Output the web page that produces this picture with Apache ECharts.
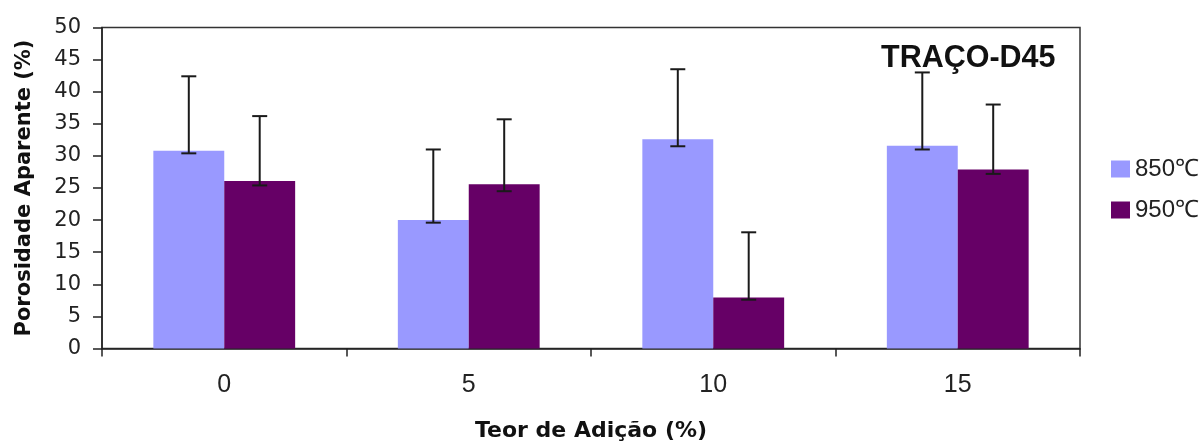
<!DOCTYPE html>
<html>
<head>
<meta charset="utf-8">
<script src="https://cdn.jsdelivr.net/npm/echarts@6/dist/echarts.min.js"></script>
<style>
html,body{margin:0;padding:0;background:#fff;}
#c{width:1203px;height:443px;}
</style>
</head>
<body>
<div id="c"></div>
<script>
const categories = ['0', '5', '10', '15'];
const seriesNames = ['850\u2103', '950\u2103'];
const values850 = [30.8, 20.0, 32.6, 31.6];
const values950 = [26.1, 25.6, 7.95, 27.9];
const errLow850 = [30.4, 19.6, 31.5, 31.0];
const errHigh850 = [42.4, 31.0, 43.5, 43.0];
const errLow950 = [25.4, 24.5, 7.6, 27.2];
const errHigh950 = [36.2, 35.7, 18.1, 38.0];
const yTicks = { min: 0, max: 50, interval: 5 };
const chartTitle = 'TRA\u00c7O-D45';
const xTitle = 'Teor de Adi\u00e7\u00e3o (%)';
const yTitle = 'Porosidade Aparente (%)';

const colors = ['#9999ff', '#660066'];
const gapFrac = 0.42;
const axisColor = '#222';

function errData(lo, hi) {
  return categories.map((c, i) => [i, lo[i], hi[i]]);
}
function errRender(sign) {
  return function (params, api) {
    const idx = api.value(0);
    const base = api.coord([idx, 0]);
    const catW = api.size([1, 0])[0];
    const cx = base[0] + sign * catW * (1 - gapFrac) / 4;
    const lo = api.coord([idx, api.value(1)])[1];
    const hi = api.coord([idx, api.value(2)])[1];
    const hw = 7.5;
    const st = { stroke: '#1a1a1a', lineWidth: 2 };
    return {
      type: 'group',
      children: [
        { type: 'line', shape: { x1: cx, y1: lo, x2: cx, y2: hi }, style: st },
        { type: 'line', shape: { x1: cx - hw, y1: lo, x2: cx + hw, y2: lo }, style: st },
        { type: 'line', shape: { x1: cx - hw, y1: hi, x2: cx + hw, y2: hi }, style: st }
      ]
    };
  };
}

const chart = echarts.init(document.getElementById('c'), null, { renderer: 'canvas' });
chart.setOption({
  animation: false,
  backgroundColor: '#fff',
  title: {
    text: chartTitle,
    left: 881, top: 43, padding: 0,
    textStyle: { fontFamily: 'Liberation Sans', fontWeight: 'bold', fontSize: 30.5, color: '#111' }
  },
  legend: {
    orient: 'vertical', left: 1111, top: 157, padding: 0,
    itemWidth: 19, itemHeight: 17, itemGap: 17,
    icon: 'rect',
    textStyle: { fontFamily: 'Liberation Sans', fontSize: 24, lineHeight: 24, color: '#222' },
    data: seriesNames
  },
  grid: {
    left: 102, right: 123, top: 27.5, bottom: 94.5,
    outerBoundsMode: 'none', containLabel: false,
    show: true, borderColor: '#333', borderWidth: 1.5, backgroundColor: 'transparent'
  },
  xAxis: {
    type: 'category', data: categories,
    name: xTitle, nameLocation: 'middle', nameGap: 72,
    nameTextStyle: { fontFamily: 'DejaVu Sans', fontWeight: 'bold', fontSize: 22, color: '#111' },
    axisLine: { lineStyle: { color: axisColor, width: 1.5 } },
    axisTick: { show: true, length: 8, lineStyle: { color: axisColor, width: 1.5 } },
    axisLabel: { fontFamily: 'Liberation Sans', fontSize: 25, color: '#222', margin: 24 },
    splitLine: { show: false }
  },
  yAxis: {
    type: 'value', min: yTicks.min, max: yTicks.max, interval: yTicks.interval,
    name: yTitle, nameLocation: 'middle', nameGap: 67, nameRotate: 90,
    nameTextStyle: { fontFamily: 'DejaVu Sans', fontWeight: 'bold', fontSize: 21, color: '#111' },
    axisLine: { show: true, lineStyle: { color: axisColor, width: 1.5 } },
    axisTick: { show: true, length: 9, lineStyle: { color: axisColor, width: 1.5 } },
    axisLabel: { fontFamily: 'DejaVu Sans', fontSize: 21, color: '#222', margin: 21 },
    splitLine: { show: false }
  },
  series: [
    { name: seriesNames[0], type: 'bar', data: values850, barGap: '0%', barCategoryGap: (gapFrac * 100) + '%',
      itemStyle: { color: colors[0] } },
    { name: seriesNames[1], type: 'bar', data: values950, barGap: '0%', barCategoryGap: (gapFrac * 100) + '%',
      itemStyle: { color: colors[1] } },
    { type: 'custom', renderItem: errRender(-1), data: errData(errLow850, errHigh850),
      encode: { x: 0, y: [1, 2] }, z: 10, silent: true },
    { type: 'custom', renderItem: errRender(1), data: errData(errLow950, errHigh950),
      encode: { x: 0, y: [1, 2] }, z: 10, silent: true }
  ]
});
</script>
</body>
</html>
